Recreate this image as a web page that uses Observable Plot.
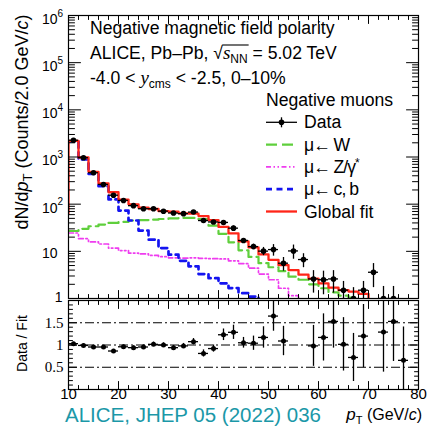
<!DOCTYPE html>
<html>
<head>
<meta charset="utf-8">
<script src="https://cdn.jsdelivr.net/npm/d3@7"></script>
<script src="https://cdn.jsdelivr.net/npm/@observablehq/plot@0.6"></script>
<style>
  html, body { margin: 0; padding: 0; background: #fff; }
  #fig { position: relative; width: 428px; height: 426px; overflow: hidden; background: #fff; }
  #fig svg { position: absolute; left: 0; overflow: visible; }
</style>
</head>
<body>
<div id="fig"></div>
<script>
// Bin centres in pT (GeV/c); every bin is 2 GeV/c wide
const ptCenters = [11, 13, 15, 17, 19, 21, 23, 25, 27, 29, 31, 33, 35, 37, 39, 41, 43, 45, 47, 49,
                   51, 53, 55, 57, 59, 61, 63, 65, 67, 69, 71, 73, 75, 77, 79];
const binHalfWidth = 1;

// Negative muons, counts per 2 GeV/c
const dataCounts = [2266, 966, 463, 262, 155, 120, 93, 80, 80, 71, 65, 63, 68, 45, 42, 41, 31, 17, 12.6, 10.1,
                    10.9, 5.6, 10.2, 6.7, 2.6, 2.5, 2.6, 1.5, 1.0, 1.5, 3.6, 1.0, 1.0, 0.4, null];
const dataErrors = [70, 30, 15, 9, 6, 5, 4, 3.5, 4, 3.5, 3.3, 3.5, 4, 3, 3, 3.5, 3.5, 1.6, 1.6, 2.0,
                    3.0, 1.8, 3.4, 2.2, 1.3, 1.3, 1.3, 0.8, 0.7, 0.8, 1.9, 0.8, 0.8, 0.4, null];

// Template fit components
const fitCounts = [2200, 976, 485, 274, 179, 125, 99, 84, 79, 71, 69, 64, 63, 56, 46, 33, 24, 16.2, 12.1, 8.6,
                   6.6, 5.1, 4.0, 3.2, 2.65, 2.1, 1.7, 1.5, 1.4, 1.25, 0.95, 0.78, 0.65, 0.55, 0.5];
const fitLeftEdgeLow = 64;
const wCounts = [27, 30, 34, 37, 40, 42, 45, 46, 47, 48.5, 50, 51, 51, 48, 35, 23.5, 15.5, 10.5, 7.6, 5.6,
                 4.6, 3.8, 2.9, 2.5, 2.0, 1.65, 1.35, 1.15, 1.05, 0.95, 0.8, 0.7, 0.6, 0.5, 0.45];
const zCounts = [24.5, 18.6, 15.8, 14.3, 11.7, 10.4, 9.2, 8.8, 8.2, 7.7, 7.3, 7.2, 7.3, 7.1, 7.0, 6.9, 6.3, 5.5, 4.4, 3.3,
                 2.5, 1.65, 1.15, 0.8, 0.6, 0.45, 0.35, 0.3, 0.25, 0.2, 0.18, 0.15, 0.13, 0.12, 0.1];
const hfCounts = [2150, 890, 440, 240, 126, 73, 45, 27.6, 17.7, 11.7, 8.5, 6.3, 4.8, 3.3, 2.7, 2.1, 1.66, 1.3, 1.1, 0.9,
                  0.75, 0.6, 0.5, 0.4, 0.35, 0.3, 0.25, 0.2, 0.18, 0.15, 0.13, 0.12, 0.1, 0.09, 0.08];

// Data / Fit
const ratioValues = [1.03, 0.99, 0.955, 0.955, 0.865, 0.96, 0.94, 0.955, 1.015, 1.0, 0.94, 0.98, 1.075, 0.81, 0.92, 1.23, 1.285, 1.05, 1.04, 1.17,
                     1.65, 1.09, null, null, 0.98, 1.17, 1.53, 1.015, 0.72, 1.2, null, 1.29, 1.53, 0.655, null];
const ratioErrors = [0.03, 0.03, 0.03, 0.035, 0.035, 0.04, 0.04, 0.045, 0.05, 0.05, 0.05, 0.055, 0.07, 0.08, 0.08, 0.13, 0.16, 0.12, 0.16, 0.24,
                     0.34, 0.33, null, null, 0.46, 0.53, 0.6, 0.6, 0.54, 0.71, null, 0.9, 0.9, 0.75, null];

// Axis ticks and labels
const xTickLabels = [10, 20, 30, 40, 50, 60, 70, 80];
const yTickValues = [1, 10, 100, 1e3, 1e4, 1e5, 1e6];
const yTickBases = ["1", "10", "10", "10", "10", "10", "10"];
const yTickExponents = ["", "", "2", "3", "4", "5", "6"];
const ratioTickValues = [0.5, 1, 1.5];
const ratioTickLabels = ["0.5", "1", "1.5"];

const colW = "#5fcf3c", colZ = "#ef3cef", colHF = "#1414f0", colFit = "#ff2518";
const dashW = "11,5", dashZ = "5,2.5,1.5,2.5,1.5,2.5", dashHF = "6,4.5";
const sans = "'Liberation Sans', Arial, Helvetica, sans-serif";
const serif = "'Liberation Serif', 'Times New Roman', serif";

const W = 428;
const frameLeft = 68, frameRightMargin = 10;

// histogram outline: one point per lower bin edge plus the upper edge of the last bin
const stepRows = (vals) => [
  ...vals.map((v, i) => ({x: ptCenters[i] - binHalfWidth, y: v})),
  {x: ptCenters[vals.length - 1] + binHalfWidth, y: vals[vals.length - 1]}
];

const dataRows = ptCenters.map((pt, i) => ({pt, v: dataCounts[i], e: dataErrors[i]})).filter(d => d.v != null);
const ratioRows = ptCenters.map((pt, i) => ({pt, v: ratioValues[i], e: ratioErrors[i]})).filter(d => d.v != null);

// inward-pointing tick marks on the frame edges, ROOT style
const tickShape = {draw(ctx, l) { ctx.moveTo(0, 0); ctx.lineTo(0, -l); }};
const tickRotate = {bottom: 0, top: 180, left: 90, right: -90};
function edgeTicks(values, side, len) {
  const key = side === "left" || side === "right" ? "y" : "x";
  return Plot.vector(values, {
    [key]: d => d, frameAnchor: side, rotate: tickRotate[side], length: len,
    anchor: "start", shape: tickShape, stroke: "black", strokeWidth: 1
  });
}
const xMinor = d3.range(10, 81, 2).filter(v => v % 10 !== 0);
const yMinor = yTickValues.slice(0, -1).flatMap(d => d3.range(2, 10).map(k => k * d));
const ratioMinor = d3.range(0.1, 2.0, 0.1).map(v => +v.toFixed(1)).filter(v => !ratioTickValues.includes(v));

const yLabelRows = yTickValues.map((v, i) => ({v, base: yTickBases[i], exp: yTickExponents[i]}));

const upper = Plot.plot({
  width: W, height: 299,
  marginTop: 15, marginBottom: 1, marginLeft: frameLeft, marginRight: frameRightMargin,
  x: {domain: [10, 80], axis: null},
  y: {type: "log", domain: [1, 1e6], axis: null},
  style: {fontFamily: sans, background: "transparent", color: "black", overflow: "visible"},
  marks: [
    Plot.line(stepRows(wCounts), {x: "x", y: "y", curve: "step-after", stroke: colW, strokeWidth: 2.2, strokeDasharray: dashW, clip: true}),
    Plot.line(stepRows(zCounts), {x: "x", y: "y", curve: "step-after", stroke: colZ, strokeWidth: 1.7, strokeDasharray: dashZ, clip: true}),
    Plot.line(stepRows(hfCounts), {x: "x", y: "y", curve: "step-after", stroke: colHF, strokeWidth: 2.7, strokeDasharray: dashHF, clip: true}),
    Plot.line([{x: 10, y: fitLeftEdgeLow}, ...stepRows(fitCounts)], {x: "x", y: "y", curve: "step-after", stroke: colFit, strokeWidth: 2.3, clip: true}),
    Plot.ruleX(dataRows, {x: "pt", y1: d => Math.max(d.v - d.e, 1e-3), y2: d => d.v + d.e, stroke: "black", strokeWidth: 1.3, clip: true}),
    Plot.ruleY(dataRows, {y: "v", x1: d => d.pt - binHalfWidth, x2: d => d.pt + binHalfWidth, stroke: "black", strokeWidth: 1.3, clip: true}),
    Plot.dot(dataRows, {x: "pt", y: "v", r: 2.8, fill: "black", clip: true}),
    Plot.frame({stroke: "black", strokeWidth: 1.2}),
    edgeTicks(xTickLabels, "bottom", 8), edgeTicks(xMinor, "bottom", 4),
    edgeTicks(xTickLabels, "top", 8), edgeTicks(xMinor, "top", 4),
    edgeTicks(yTickValues, "left", 12), edgeTicks(yMinor, "left", 6),
    edgeTicks(yTickValues, "right", 12), edgeTicks(yMinor, "right", 6),
    Plot.text(yLabelRows.filter(d => d.exp), {y: "v", text: "base", frameAnchor: "left", textAnchor: "end", dx: -11, dy: 4, fontSize: 14}),
    Plot.text(yLabelRows.filter(d => d.exp), {y: "v", text: "exp", frameAnchor: "left", textAnchor: "start", dx: -11, dy: -2, fontSize: 10}),
    Plot.text(yLabelRows.filter(d => !d.exp && d.base === "10"), {y: "v", text: "base", frameAnchor: "left", textAnchor: "end", dx: -11, dy: 2, fontSize: 14}),
    Plot.text(yLabelRows.filter(d => !d.exp && d.base === "1"), {y: "v", text: "base", frameAnchor: "left", textAnchor: "end", dx: -6, dy: -1, fontSize: 14})
  ]
});

const lower = Plot.plot({
  width: W, height: 127,
  marginTop: 1, marginBottom: 37, marginLeft: frameLeft, marginRight: frameRightMargin,
  x: {domain: [10, 80], axis: null},
  y: {domain: [0, 2], axis: null},
  style: {fontFamily: sans, background: "transparent", color: "black", overflow: "visible"},
  marks: [
    Plot.ruleY(ratioTickValues, {stroke: "black", strokeWidth: 1, strokeDasharray: "9,3,2,3"}),
    Plot.ruleX(ratioRows, {x: "pt", y1: d => d.v - d.e, y2: d => d.v + d.e, stroke: "black", strokeWidth: 1.3, clip: true}),
    Plot.ruleY(ratioRows, {y: "v", x1: d => d.pt - binHalfWidth, x2: d => d.pt + binHalfWidth, stroke: "black", strokeWidth: 1.3, clip: true}),
    Plot.dot(ratioRows, {x: "pt", y: "v", r: 2.5, fill: "black", clip: true}),
    Plot.frame({stroke: "black", strokeWidth: 1.2}),
    edgeTicks(xTickLabels, "bottom", 8), edgeTicks(xMinor, "bottom", 4),
    edgeTicks(xTickLabels, "top", 8), edgeTicks(xMinor, "top", 4),
    edgeTicks(ratioTickValues, "left", 8), edgeTicks(ratioMinor, "left", 4),
    edgeTicks(ratioTickValues, "right", 8), edgeTicks(ratioMinor, "right", 4),
    Plot.text(xTickLabels, {x: d => d, text: d => String(d), frameAnchor: "bottom", dy: 9, fontSize: 15}),
    Plot.text(ratioTickValues, {y: d => d, text: (d, i) => ratioTickLabels[i], frameAnchor: "left", textAnchor: "end", dx: -5, fontSize: 15, fontFamily: serif})
  ]
});

const fig = document.getElementById("fig");
upper.style.top = "0px";
lower.style.top = "299px";
fig.appendChild(upper);
fig.appendChild(lower);

// Annotations, legend and axis titles
const ov = d3.select(fig).append("svg")
  .attr("width", W).attr("height", 426)
  .style("top", "0px").style("pointer-events", "none")
  .attr("font-family", sans);

function richText(parent, {x = 0, y = 0, size, anchor = "start", transform, fill = "black"}, parts) {
  const t = parent.append("text").attr("font-size", size).attr("text-anchor", anchor).attr("fill", fill);
  if (transform) t.attr("transform", transform); else t.attr("x", x).attr("y", y);
  let shift = 0;
  for (const p of parts) {
    const o = typeof p === "string" ? {t: p} : p;
    const s = o.shift || 0;
    const ts = t.append("tspan").text(o.t);
    if (s !== shift) { ts.attr("dy", s - shift); shift = s; }
    if (o.spacing) ts.attr("letter-spacing", o.spacing);
    if (o.italic) ts.attr("font-style", "italic");
    if (o.family) ts.attr("font-family", o.family);
    if (o.size) ts.attr("font-size", o.size);
  }
  return t;
}

const fs = 17.6;
richText(ov, {x: 90, y: 33.5, size: fs}, ["Negative magnetic field polarity"]);
const line2 = richText(ov, {x: 90, y: 58.5, size: fs}, [
  "ALICE, Pb–Pb, ", "√", {t: "s", italic: true, family: serif, size: 19}, {t: "NN", size: 12, shift: 4}, {t: " = 5.02 TeV", shift: 0}
]);
{
  const n = line2.node();
  const a = n.getEndPositionOfChar(14).x, b = n.getEndPositionOfChar(17).x;
  ov.append("line").attr("x1", a - 0.5).attr("x2", b + 1).attr("y1", 45).attr("y2", 45).attr("stroke", "black").attr("stroke-width", 1.1);
}
richText(ov, {x: 90, y: 84, size: fs}, [
  "-4.0 < ", {t: "y", italic: true, family: serif, size: 19}, {t: "cms", size: 12, shift: 4}, {t: " < -2.5, 0–10%", shift: 0}
]);

// legend
const lgX0 = 266, lgX1 = 297, lgTx = 304, lgBase = 106, lgStep = 22.3;
richText(ov, {x: lgX0, y: lgBase, size: fs}, ["Negative muons"]);
const entries = [
  {label: ["Data"]},
  {label: [{t: "μ← W", spacing: -1}], stroke: colW, w: 2.2, dash: dashW},
  {label: [{t: "μ← Z/γ", spacing: -1}, {t: "*", size: 12, shift: -6}], stroke: colZ, w: 1.7, dash: dashZ},
  {label: [{t: "μ← c, b", spacing: -1}], stroke: colHF, w: 2.7, dash: dashHF},
  {label: ["Global fit"], stroke: colFit, w: 2.3, dash: null}
];
entries.forEach((e, i) => {
  const yb = lgBase + lgStep * (i + 1);
  const ym = yb - 6;
  if (e.stroke) {
    const l = ov.append("line").attr("x1", lgX0).attr("x2", lgX1).attr("y1", ym).attr("y2", ym)
      .attr("stroke", e.stroke).attr("stroke-width", e.w);
    if (e.dash) l.attr("stroke-dasharray", e.dash);
  } else {
    const xm = (lgX0 + lgX1) / 2;
    ov.append("line").attr("x1", lgX0).attr("x2", lgX1).attr("y1", ym).attr("y2", ym).attr("stroke", "black").attr("stroke-width", 1.3);
    ov.append("line").attr("x1", xm).attr("x2", xm).attr("y1", ym - 5).attr("y2", ym + 5).attr("stroke", "black").attr("stroke-width", 1.3);
    ov.append("circle").attr("cx", xm).attr("cy", ym).attr("r", 2.8).attr("fill", "black");
  }
  richText(ov, {x: lgTx, y: yb, size: fs}, e.label);
});

// axis titles
richText(ov, {size: 18, anchor: "middle", transform: "translate(28,122) rotate(-90)"}, [
  "dN/d", {t: "p", italic: true}, {t: "T", size: 13, shift: 4}, {t: " (Counts/2.0 GeV/", shift: 0}, {t: "c", italic: true}, ")"
]);
richText(ov, {size: 14, anchor: "middle", transform: "translate(27,343.5) rotate(-90)"}, ["Data / Fit"]);
richText(ov, {x: 422, y: 420, size: 16, anchor: "end"}, [
  {t: "p", italic: true, size: 17}, {t: "T", size: 11, shift: 4}, {t: " (GeV/", shift: 0}, {t: "c", italic: true}, ")"
]);

// publication reference
richText(ov, {x: 65, y: 421.5, size: 20.5, fill: "#1b98a8"}, ["ALICE, JHEP 05 (2022) 036"]);
</script>
</body>
</html>
